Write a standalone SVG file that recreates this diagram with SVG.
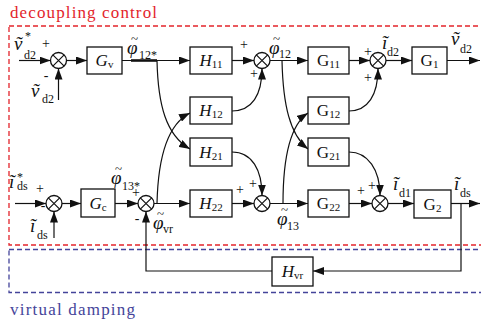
<svg xmlns="http://www.w3.org/2000/svg" width="481" height="323" viewBox="0 0 481 323" font-family="'Liberation Serif', 'DejaVu Serif', serif">
<style>
text{font-family:'Liberation Serif','DejaVu Serif',serif;fill:#111}
.box{fill:#fff;stroke:#111;stroke-width:1.3}
.ln{fill:none;stroke:#111;stroke-width:1.2}
.lnA{fill:none;stroke:#111;stroke-width:1.2;marker-end:url(#ar)}
.bl{font-size:17px;text-anchor:middle}
.it{font-style:italic}
.sub{font-size:11px}
.var{font-size:19px;font-style:italic}
.vs{font-size:12px}
.tl{font-size:13px}
.pm{font-size:14px;text-anchor:middle}
.red{fill:none;stroke:#e3242b;stroke-width:1.3;stroke-dasharray:5 3}
.blue{fill:none;stroke:#44449a;stroke-width:1.3;stroke-dasharray:5 3}
</style>
<defs>
<marker id="ar" viewBox="0 0 11 8" refX="11" refY="4" markerWidth="11" markerHeight="8" markerUnits="userSpaceOnUse" orient="auto"><path d="M0,0 L11,4 L0,8 z" fill="#111"/></marker>
<g id="sum"><circle r="8" fill="#fff" stroke="#111" stroke-width="1.3"/><path d="M-5.66,-5.66 L5.66,5.66 M-5.66,5.66 L5.66,-5.66" stroke="#111" stroke-width="1.2"/></g>
</defs>

<g id="regions">
<rect class="red" x="9" y="26" width="480" height="219"/>
<text x="10" y="18" font-size="17" style="fill:#e3242b" textLength="147">decoupling control</text>
<rect class="blue" x="9" y="249.5" width="480" height="43"/>
<text x="10" y="315" font-size="17" style="fill:#44449a" textLength="125">virtual damping</text>
</g>

<g id="connectors">
<path class="lnA" d="M19,60.5 H50.5"/>
<path class="lnA" d="M58.5,100 V68.5"/>
<path class="lnA" d="M66.5,60.5 H87"/>
<path class="lnA" d="M122,60.5 H190"/>
<path class="ln" d="M131,60.5 H157" style="stroke-width:2.6"/>
<path class="lnA" d="M232,60.5 H254"/>
<path class="lnA" d="M270,60.5 H308"/>
<path class="lnA" d="M349,60.5 H370"/>
<path class="lnA" d="M386,60.5 H412"/>
<path class="lnA" d="M447,60.5 H480"/>
<path class="lnA" d="M15,203.5 H46"/>
<path class="lnA" d="M54,238 V211.5"/>
<path class="lnA" d="M62,203.5 H81"/>
<path class="lnA" d="M115,203.5 H138"/>
<path class="lnA" d="M154,203.5 H190"/>
<path class="lnA" d="M232,203.5 H254"/>
<path class="lnA" d="M270,203.5 H308"/>
<path class="lnA" d="M349,203.5 H372"/>
<path class="lnA" d="M388,203.5 H414"/>
<path class="lnA" d="M451,203.5 H480"/>
<path class="lnA" d="M461,203.5 V271 H313"/>
<path class="lnA" d="M272,271 H146 V211.5"/>
<path class="lnA" d="M157,60.5 C158,105 166,135 190,149"/>
<path class="lnA" d="M157,203.5 C158,160 166,125 190,113"/>
<path class="lnA" d="M232,111 C252,111 262,95 262,68.5"/>
<path class="lnA" d="M232,152 C252,152 262,170 262,195.5"/>
<path class="lnA" d="M282,60.5 C283,105 290,135 308,149"/>
<path class="lnA" d="M283,203.5 C283,160 290,125 308,113"/>
<path class="lnA" d="M349,111 C368,111 378,95 378,68.5"/>
<path class="lnA" d="M349,152 C368,152 380,170 380,195.5"/>
</g>

<g id="sum1"><use href="#sum" x="58.5" y="60.5"/></g>
<g id="sum2"><use href="#sum" x="262" y="60.5"/></g>
<g id="sum3"><use href="#sum" x="378" y="60.5"/></g>
<g id="sum4"><use href="#sum" x="54" y="203.5"/></g>
<g id="sum5"><use href="#sum" x="146" y="203.5"/></g>
<g id="sum6"><use href="#sum" x="262" y="203.5"/></g>
<g id="sum7"><use href="#sum" x="380" y="203.5"/></g>

<g id="Gv"><rect class="box" x="87" y="47" width="35" height="27"/><text class="bl" x="104.5" y="66"><tspan class="it">G</tspan><tspan class="sub" dy="2">v</tspan></text></g>
<g id="H11"><rect class="box" x="190" y="47" width="42" height="27"/><text class="bl" x="211" y="66"><tspan class="it">H</tspan><tspan class="sub" dy="2">11</tspan></text></g>
<g id="H12"><rect class="box" x="190" y="97" width="42" height="27"/><text class="bl" x="211" y="116"><tspan class="it">H</tspan><tspan class="sub" dy="2">12</tspan></text></g>
<g id="H21"><rect class="box" x="190" y="138" width="42" height="28"/><text class="bl" x="211" y="157.5"><tspan class="it">H</tspan><tspan class="sub" dy="2">21</tspan></text></g>
<g id="H22"><rect class="box" x="190" y="190" width="42" height="27"/><text class="bl" x="211" y="209"><tspan class="it">H</tspan><tspan class="sub" dy="2">22</tspan></text></g>
<g id="G11"><rect class="box" x="308" y="47" width="41" height="27"/><text class="bl" x="328.5" y="66">G<tspan class="sub" dy="2">11</tspan></text></g>
<g id="G12"><rect class="box" x="308" y="97" width="41" height="27"/><text class="bl" x="328.5" y="116">G<tspan class="sub" dy="2">12</tspan></text></g>
<g id="G21"><rect class="box" x="308" y="138" width="41" height="28"/><text class="bl" x="328.5" y="157.5">G<tspan class="sub" dy="2">21</tspan></text></g>
<g id="G22"><rect class="box" x="308" y="190" width="41" height="27"/><text class="bl" x="328.5" y="209">G<tspan class="sub" dy="2">22</tspan></text></g>
<g id="G1"><rect class="box" x="412" y="47" width="35" height="27"/><text class="bl" x="429.5" y="66">G<tspan class="sub" dy="2">1</tspan></text></g>
<g id="G2"><rect class="box" x="414" y="190" width="37" height="28"/><text class="bl" x="432.5" y="209.5">G<tspan class="sub" dy="2">2</tspan></text></g>
<g id="Gc"><rect class="box" x="81" y="189" width="34" height="28"/><text class="bl" x="98" y="208.5"><tspan class="it">G</tspan><tspan class="sub" dy="2">c</tspan></text></g>
<g id="Hvr"><rect class="box" x="272" y="257" width="41" height="29"/><text class="bl" x="292.5" y="277"><tspan class="it">H</tspan><tspan class="sub" dy="2">vr</tspan></text></g>

<g id="labels">
<text class="var" x="14" y="50">ṽ</text><text class="vs" x="25" y="40">*</text><text class="vs" x="24" y="59">d2</text>
<text class="pm" x="46" y="48">+</text>
<text class="var" x="31" y="97">ṽ</text><text class="vs" x="42" y="103">d2</text>
<text class="pm" x="46" y="80">-</text>
<text class="var" x="127" y="54">φ</text><text class="tl" x="131" y="43">~</text><text class="vs" x="139" y="59">12*</text>
<text class="pm" x="244" y="49">+</text><text class="pm" x="254" y="78">+</text>
<text class="var" x="269" y="54">φ</text><text class="tl" x="273" y="43">~</text><text class="vs" x="279" y="58">12</text>
<text class="pm" x="368" y="56">+</text><text class="pm" x="368" y="82">+</text>
<text class="var" x="382" y="49">ĩ</text><text class="vs" x="387" y="56">d2</text>
<text class="var" x="451" y="45">ṽ</text><text class="vs" x="460" y="53">d2</text>
<text class="var" x="9" y="188">ĩ</text><text class="vs" x="17" y="181">*</text><text class="vs" x="17" y="190">ds</text>
<text class="pm" x="40" y="193">+</text>
<text class="var" x="30" y="232">ĩ</text><text class="vs" x="37" y="239">ds</text>
<text class="pm" x="43" y="210">-</text>
<text class="var" x="111" y="184">φ</text><text class="tl" x="115" y="173">~</text><text class="vs" x="122" y="190">13*</text>
<text class="pm" x="136" y="197">+</text>
<text class="pm" x="137" y="223">-</text>
<text class="var" x="153" y="229">φ</text><text class="tl" x="157" y="218">~</text><text class="vs" x="163" y="233">vr</text>
<text class="pm" x="240" y="194">+</text><text class="pm" x="253" y="188">+</text>
<text class="var" x="277" y="225">φ</text><text class="tl" x="281" y="214">~</text><text class="vs" x="287" y="230">13</text>
<text class="pm" x="361" y="195">+</text><text class="pm" x="372" y="190">+</text>
<text class="var" x="393" y="190">ĩ</text><text class="vs" x="399" y="197">d1</text>
<text class="var" x="454" y="190">ĩ</text><text class="vs" x="460" y="197">ds</text>
</g>
</svg>
